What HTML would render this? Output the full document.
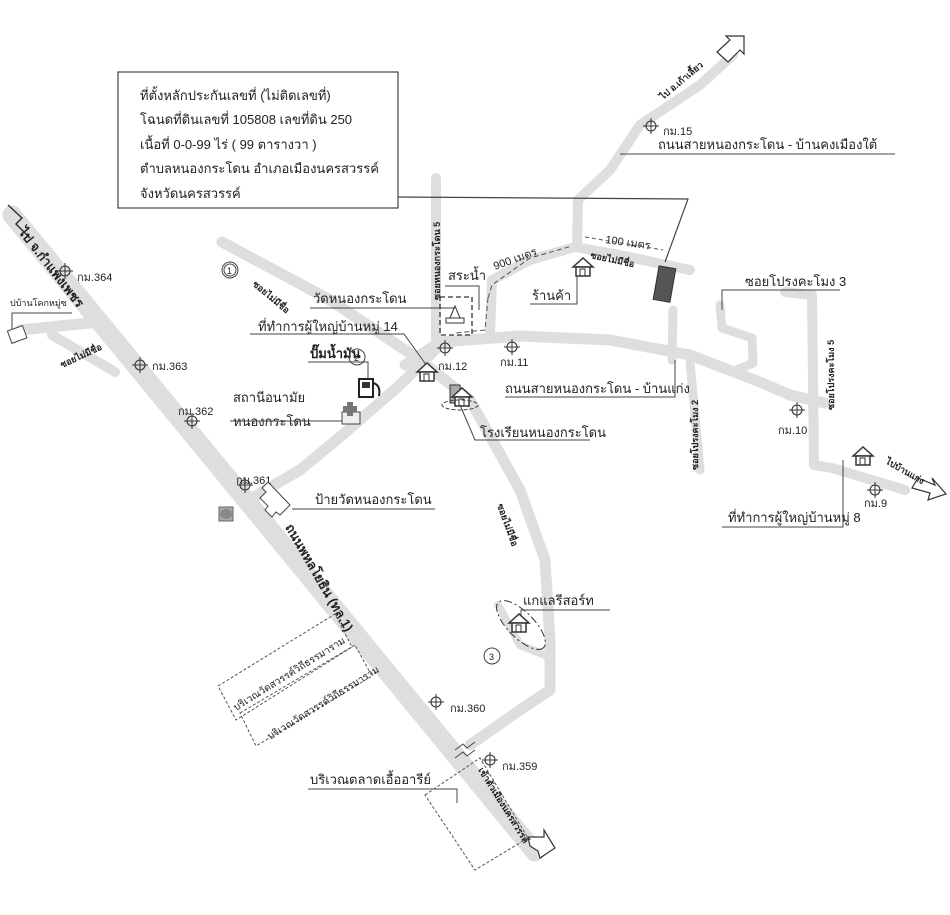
<!DOCTYPE html>
<html><head><meta charset="utf-8"><style>
html,body{margin:0;padding:0;background:#fff;}
svg{display:block;}
text{font-family:"Liberation Sans","Noto Sans CJK SC",sans-serif;fill:#222;}
.t{font-size:13px;}
.s{font-size:9px;font-weight:bold;}
.k{font-size:11px;}
</style></head><body>
<svg width="950" height="915" viewBox="0 0 950 915" xmlns="http://www.w3.org/2000/svg">
<defs>
<g id="m"><circle cx="0" cy="0" r="5" fill="none" stroke="#333" stroke-width="1.1"/><line x1="-8" y1="0" x2="8" y2="0" stroke="#333"/><line x1="0" y1="-8" x2="0" y2="8" stroke="#333"/></g>
<g id="h"><path d="M-10,0 L0,-9 L10,0 Z" fill="#fff" stroke="#333" stroke-width="1.5"/><rect x="-7" y="0" width="14" height="9" fill="#fff" stroke="#333" stroke-width="1.5"/><rect x="-3" y="2" width="5" height="7" fill="none" stroke="#333"/></g>
</defs>
<g fill="none" stroke="#dedede" stroke-linejoin="round" stroke-linecap="round">
<path d="M12,215 L535,852" stroke-width="19"/>
<path d="M20,330 L100,322" stroke-width="11"/>
<path d="M52,335 L115,372" stroke-width="10"/>
<path d="M222,242 L330,300 L420,360 L470,400 L520,490 L545,560 L550,640 L550,690 L520,710 L470,745" stroke-width="11"/>
<path d="M252,498 L300,470 L340,437 L400,385 L435,350" stroke-width="11"/>
<path d="M436,178 L436,340" stroke-width="10"/>
<path d="M405,365 L440,342 L520,336 L610,340 L690,355 L760,382 L790,395 L825,403" stroke-width="11"/>
<path d="M490,335 L492,280 L530,260 L575,247 L620,255 L690,270" stroke-width="10"/>
<path d="M577,247 L578,200 L610,170 L640,125 L700,85 L733,55" stroke-width="10"/>
<path d="M673,310 L672,360" stroke-width="9"/>
<path d="M690,362 L700,470" stroke-width="9"/>
<path d="M720,305 L722,328 L752,338 L753,363 L732,372" stroke-width="9"/>
<path d="M785,292 L812,295 L814,465 L832,468 L905,490" stroke-width="10"/>
<path d="M498,605 L520,645 L545,655" stroke-width="8"/>
</g>
<path d="M8,205 L22,218 L16,224 L30,238" fill="none" stroke="#333" stroke-width="1.5"/>
<path d="M717,52 L730,40 L726,36 L744,36 L744,54 L740,50 L728,62 Z" fill="#fff" stroke="#333" stroke-width="1.2"/>
<path d="M528,837 L544,837 L544,830 L555,848 L540,858 L538,851 L530,846 Z" fill="#fff" stroke="#333" stroke-width="1.2"/>
<path d="M918,478 L935,485 L932,478 L946,494 L928,500 L930,493 L912,488 Z" fill="#fff" stroke="#333" stroke-width="1.2"/>
<rect x="118" y="72" width="280" height="136" fill="#fff" stroke="#444" stroke-width="1.2"/>
<text x="140" y="100" class="t">ที่ตั้งหลักประกันเลขที่ (ไม่ติดเลขที่)</text>
<text x="140" y="124" class="t">โฉนดที่ดินเลขที่ 105808  เลขที่ดิน  250</text>
<text x="140" y="149" class="t">เนื้อที่ 0-0-99 ไร่ ( 99  ตารางวา )</text>
<text x="140" y="173" class="t">ตำบลหนองกระโดน   อำเภอเมืองนครสวรรค์</text>
<text x="140" y="198" class="t">จังหวัดนครสวรรค์</text>
<polyline points="398,197 688,199 665,262" fill="none" stroke="#444" stroke-width="1.2"/>
<rect x="656" y="267" width="17" height="34" fill="#555" stroke="#333" transform="rotate(10 664 284)"/>
<text x="18" y="232" class="t" font-weight="bold" transform="rotate(52 18 232)">ไป จ.กำแพงเพชร</text>
<text x="285" y="527" class="t" font-weight="bold" transform="rotate(60 285 527)">ถนนพหลโยธิน (ทล.1)</text>
<text x="478" y="770" class="s" font-size="10" transform="rotate(58 478 770)">เข้าตัวเมืองนครสวรรค์</text>
<text x="663" y="100" class="s" transform="rotate(-40 663 100)">ไป อ.เก้าเลี้ยว</text>
<use href="#m" x="65" y="271"/><text x="77" y="281" class="k">กม.364</text>
<use href="#m" x="140" y="365"/><text x="152" y="370" class="k">กม.363</text>
<use href="#m" x="192" y="421"/><text x="178" y="415" class="k">กม.362</text>
<use href="#m" x="245" y="485"/><text x="236" y="484" class="k">กม.361</text>
<use href="#m" x="651" y="126"/><text x="663" y="135" class="k">กม.15</text>
<use href="#m" x="445" y="348"/><text x="438" y="370" class="k">กม.12</text>
<use href="#m" x="512" y="347"/><text x="500" y="366" class="k">กม.11</text>
<use href="#m" x="797" y="410"/><text x="778" y="434" class="k">กม.10</text>
<use href="#m" x="875" y="490"/><text x="864" y="507" class="k">กม.9</text>
<use href="#m" x="436" y="702"/><text x="450" y="712" class="k">กม.360</text>
<use href="#m" x="490" y="760"/><text x="502" y="770" class="k">กม.359</text>
<text x="10" y="306" font-size="9">ปบ้านโคกหมู่ซ</text>
<polyline points="72,313 12,313 12,340" fill="none" stroke="#444"/>
<rect x="9" y="328" width="16" height="13" fill="#fff" stroke="#444" transform="rotate(-20 17 334)"/>
<text x="62" y="340" class="s" font-size="8" transform="rotate(-25 62 368) translate(0,28)">ซอยไม่มีชื่อ</text>
<circle cx="230" cy="270" r="8" fill="#fff" stroke="#444"/><circle cx="230" cy="270" r="6" fill="none" stroke="#444"/><text x="227" y="274" font-size="9">1</text>
<text x="252" y="285" class="s" font-size="8" transform="rotate(40 252 285)">ซอยไม่มีชื่อ</text>
<text x="313" y="303" class="t">วัดหนองกระโดน</text>
<polyline points="310,308 455,308" fill="none" stroke="#444"/>
<text x="258" y="331" class="t">ที่ทำการผู้ใหญ่บ้านหมู่ 14</text>
<polyline points="250,334 404,334 427,366" fill="none" stroke="#444"/>
<use href="#h" x="427" y="372"/>
<text x="310" y="358" class="t" font-weight="bold">ปั๊มน้ำมัน</text>
<polyline points="308,362 368,362 368,378" fill="none" stroke="#444"/>
<circle cx="357" cy="357" r="8" fill="none" stroke="#444"/><text x="354" y="361" font-size="9">2</text>
<rect x="359" y="379" width="14" height="18" fill="#fff" stroke="#222" stroke-width="2"/><rect x="362" y="382" width="8" height="6" fill="#333"/><path d="M373,383 q8,2 6,13" fill="none" stroke="#222" stroke-width="2"/>
<text x="233" y="402" class="t">สถานีอนามัย</text>
<text x="233" y="426" class="t">หนองกระโดน</text>
<line x1="230" y1="421" x2="345" y2="421" stroke="#444"/>
<rect x="342" y="412" width="18" height="12" fill="#eee" stroke="#444"/><path d="M347,402 h6 v4 h4 v6 h-4 v4 h-6 v-4 h-4 v-6 h4z" fill="#777"/>
<rect x="219" y="507" width="14" height="14" fill="#aaa" stroke="#666"/><ellipse cx="226" cy="514" rx="6" ry="5" fill="#888"/>
<path d="M268,482 L290,505 L280,515 L276,512 L272,517 L265,510 L268,506 L260,498 L266,492 L262,488 Z" fill="#fff" stroke="#444"/>
<text x="315" y="504" class="t">ป้ายวัดหนองกระโดน</text>
<line x1="292" y1="509" x2="435" y2="509" stroke="#444"/>
<text x="440" y="300" class="s" font-size="10" transform="rotate(-90 440 300)">ซอยหนองกระโดน 5</text>
<text x="448" y="280" class="t">สระน้ำ</text>
<polyline points="445,286 479,286 479,310" fill="none" stroke="#444"/>
<rect x="440" y="297" width="32" height="38" fill="none" stroke="#333" stroke-dasharray="5,3" stroke-width="1.3"/>
<path d="M450,318 L455,306 L460,318 Z M446,318 h18 v5 h-18z" fill="#fff" stroke="#333"/>
<path d="M488,298 L485,330 L455,333 M488,298 L492,285 L530,258 L572,246" fill="none" stroke="#555" stroke-dasharray="5,3"/>
<text x="495" y="270" class="k" transform="rotate(-20 495 270)">900 เมตร</text>
<text x="605" y="243" class="k" transform="rotate(8 605 243)">100 เมตร</text>
<path d="M585,237 L663,250" fill="none" stroke="#555" stroke-dasharray="4,3"/>
<text x="590" y="258" class="s" transform="rotate(12 590 258)">ซอยไม่มีชื่อ</text>
<use href="#h" x="583" y="267"/>
<text x="532" y="300" class="t">ร้านค้า</text>
<polyline points="530,304 577,304 577,276" fill="none" stroke="#444"/>
<text x="658" y="149" class="t">ถนนสายหนองกระโดน - บ้านคงเมืองใต้</text>
<line x1="620" y1="154" x2="895" y2="154" stroke="#444"/>
<g transform="translate(450,385)"><rect x="0" y="0" width="10" height="18" fill="#aaa" stroke="#333"/><use href="#h" x="12" y="12"/><ellipse cx="10" cy="20" rx="18" ry="5" fill="none" stroke="#444" stroke-dasharray="4,2"/></g>
<text x="480" y="437" class="t">โรงเรียนหนองกระโดน</text>
<polyline points="460,405 475,440 590,440" fill="none" stroke="#444"/>
<text x="505" y="393" class="t">ถนนสายหนองกระโดน - บ้านแก่ง</text>
<polyline points="505,397 675,397 675,360" fill="none" stroke="#444"/>
<text x="698" y="470" class="s" transform="rotate(-90 698 470)">ซอยโปรงคะโมง 2</text>
<text x="745" y="286" class="t">ซอยโปรงคะโมง 3</text>
<polyline points="840,290 722,290 722,310" fill="none" stroke="#444"/>
<text x="834" y="410" class="s" transform="rotate(-90 834 410)">ซอยโปรงคะโมง 5</text>
<use href="#h" x="863" y="456"/>
<text x="728" y="522" class="t">ที่ทำการผู้ใหญ่บ้านหมู่ 8</text>
<polyline points="722,527 843,527 843,460" fill="none" stroke="#444"/>
<text x="885" y="463" class="s" font-size="10" transform="rotate(30 885 463)">ไปบ้านแก่ง</text>
<text x="497" y="505" class="s" font-size="10" transform="rotate(70 497 505)">ซอยไม่มีชื่อ</text>
<text x="523" y="605" class="t">แกแลรีสอร์ท</text>
<polyline points="610,610 521,610 521,620" fill="none" stroke="#444"/>
<ellipse cx="521" cy="625" rx="32" ry="13" fill="none" stroke="#333" stroke-dasharray="8,3,2,3" transform="rotate(45 521 625)"/>
<use href="#h" x="519" y="623"/>
<circle cx="492" cy="656" r="8" fill="none" stroke="#444"/><text x="489" y="660" font-size="9">3</text>
<g fill="none" stroke="#555" stroke-dasharray="3,2">
<polygon points="218,686 335,614 352,647 236,720"/>
<polygon points="240,713 355,645 372,676 256,746"/>
<polygon points="425,795 480,758 528,838 475,870"/>
</g>
<text x="236" y="711" font-size="10" transform="rotate(-32 236 711)">บริเวณวัดสวรรค์วิถีธรรมาราม</text>
<text x="270" y="740" font-size="10" transform="rotate(-32 270 740)">บริเวณวัดสวรรค์วิถีธรรมาราม</text>
<path d="M455,750 l8,-6 l4,4 l8,-6 M455,758 l8,-6 l4,4 l8,-6" fill="none" stroke="#444"/>
<text x="310" y="784" class="t">บริเวณตลาดเอื้ออารีย์</text>
<polyline points="308,789 457,789 457,803" fill="none" stroke="#444"/>
</svg>
</body></html>
